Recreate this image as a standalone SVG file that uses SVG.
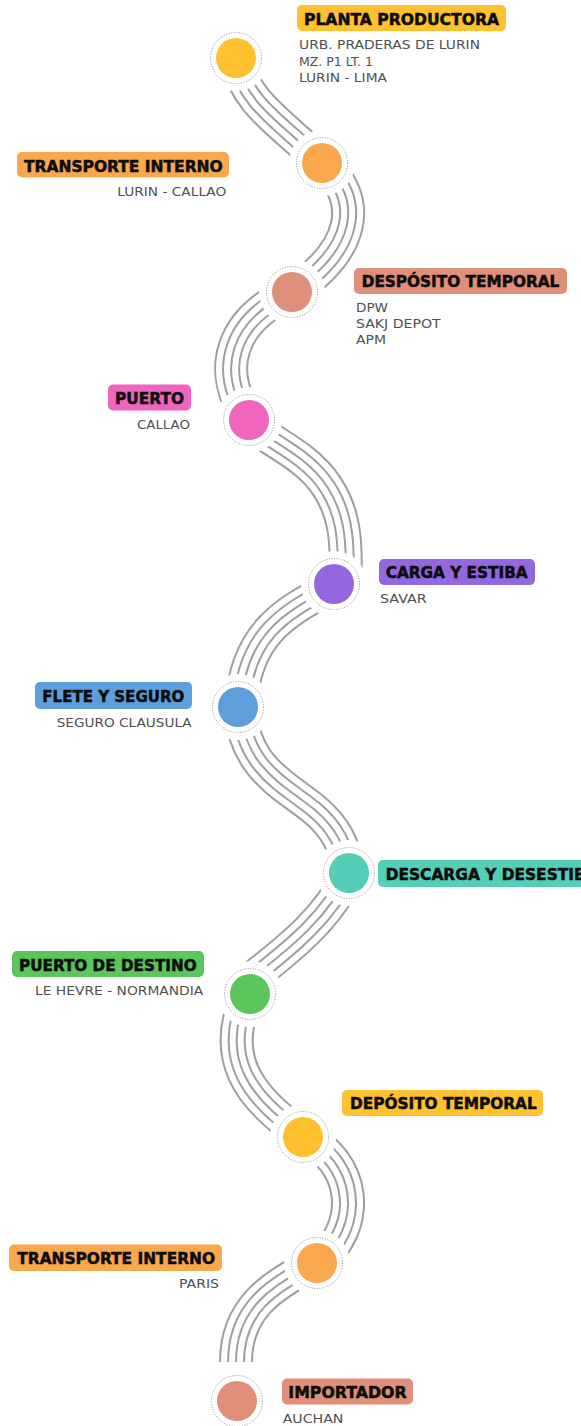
<svg xmlns="http://www.w3.org/2000/svg" xmlns:xlink="http://www.w3.org/1999/xlink" width="581" height="1426" viewBox="0 0 581 1426">
<style>
.bg{fill:#ffffff}
.g34{fill:none;stroke:#99a0a6;stroke-width:34}
.w30{fill:none;stroke:#ffffff;stroke-width:30}
.g18{fill:none;stroke:#99a0a6;stroke-width:18}
.w14{fill:none;stroke:#ffffff;stroke-width:14}
.g2{fill:none;stroke:#99a0a6;stroke-width:2}
.halo{fill:#ffffff}
.ring{fill:none;stroke:#8c8c8c;stroke-width:1;stroke-dasharray:1 1.6}
.ttl{font-family:"DejaVu Sans","Liberation Sans",sans-serif;font-weight:bold;font-size:16.5px;fill:#0d0d0d;stroke:#0d0d0d;stroke-width:0.55}
.sub{font-family:"DejaVu Sans","Liberation Sans",sans-serif;font-size:12.5px;fill:#4f4f4f}
.c-yel{fill:#FFC12F}.c-org{fill:#F9A84D}.c-sal{fill:#E0907A}.c-pnk{fill:#F065BE}
.c-pur{fill:#9367E0}.c-blu{fill:#5E9EDB}.c-tea{fill:#55CEB8}.c-grn{fill:#5BC65B}
</style>
<defs>
<path id="p1" d="M236,58 C245,105 285,125 322,163"/>
<path id="p2" d="M322,163 C365,200 355,250 292,292"/>
<path id="p3" d="M292,292 C230,320 215,370 249,420"/>
<path id="p4" d="M247,424 C285,448 312,462 328,488 C342,510 348,535 345,584"/>
<path id="p5" d="M334,586 C290,610 245,630 241,707"/>
<path id="p6" d="M240,710 C246,770 285,785 315,810 C335,827 345,845 349,873"/>
<path id="p7" d="M349,873 C330,915 295,945 244,984"/>
<path id="p8" d="M246,998 C222,1055 245,1095 300,1133"/>
<path id="p9" d="M303,1137 C355,1160 365,1225 317,1263"/>
<path id="p10" d="M317,1263 C270,1285 236,1310 236,1362"/>
</defs>
<rect class="bg" x="0" y="0" width="581" height="1426"/>
<g id="connectors">
<g id="road1"><use xlink:href="#p1" class="g34"/><use xlink:href="#p1" class="w30"/><use xlink:href="#p1" class="g18"/><use xlink:href="#p1" class="w14"/><use xlink:href="#p1" class="g2"/></g>
<g id="road2"><use xlink:href="#p2" class="g34"/><use xlink:href="#p2" class="w30"/><use xlink:href="#p2" class="g18"/><use xlink:href="#p2" class="w14"/><use xlink:href="#p2" class="g2"/></g>
<g id="road3"><use xlink:href="#p3" class="g34"/><use xlink:href="#p3" class="w30"/><use xlink:href="#p3" class="g18"/><use xlink:href="#p3" class="w14"/><use xlink:href="#p3" class="g2"/></g>
<g id="road4"><use xlink:href="#p4" class="g34"/><use xlink:href="#p4" class="w30"/><use xlink:href="#p4" class="g18"/><use xlink:href="#p4" class="w14"/><use xlink:href="#p4" class="g2"/></g>
<g id="road5"><use xlink:href="#p5" class="g34"/><use xlink:href="#p5" class="w30"/><use xlink:href="#p5" class="g18"/><use xlink:href="#p5" class="w14"/><use xlink:href="#p5" class="g2"/></g>
<g id="road6"><use xlink:href="#p6" class="g34"/><use xlink:href="#p6" class="w30"/><use xlink:href="#p6" class="g18"/><use xlink:href="#p6" class="w14"/><use xlink:href="#p6" class="g2"/></g>
<g id="road7"><use xlink:href="#p7" class="g34"/><use xlink:href="#p7" class="w30"/><use xlink:href="#p7" class="g18"/><use xlink:href="#p7" class="w14"/><use xlink:href="#p7" class="g2"/></g>
<g id="road8"><use xlink:href="#p8" class="g34"/><use xlink:href="#p8" class="w30"/><use xlink:href="#p8" class="g18"/><use xlink:href="#p8" class="w14"/><use xlink:href="#p8" class="g2"/></g>
<g id="road9"><use xlink:href="#p9" class="g34"/><use xlink:href="#p9" class="w30"/><use xlink:href="#p9" class="g18"/><use xlink:href="#p9" class="w14"/><use xlink:href="#p9" class="g2"/></g>
<g id="road10"><use xlink:href="#p10" class="g34"/><use xlink:href="#p10" class="w30"/><use xlink:href="#p10" class="g18"/><use xlink:href="#p10" class="w14"/><use xlink:href="#p10" class="g2"/></g>
</g>

<g id="node-planta">
<circle class="halo" cx="236" cy="58" r="33"/><circle class="ring" cx="236" cy="58" r="25.5"/><circle class="c-yel" cx="236" cy="58" r="20"/>
<rect class="c-yel" x="297" y="5" width="209" height="26" rx="5"/>
<text class="ttl" x="304" y="25" textLength="195" lengthAdjust="spacingAndGlyphs">PLANTA PRODUCTORA</text>
<text class="sub" x="299" y="49.3" textLength="181" lengthAdjust="spacingAndGlyphs">URB. PRADERAS DE LURIN</text>
<text class="sub" x="299" y="65.7" textLength="74" lengthAdjust="spacingAndGlyphs">MZ. P1 LT. 1</text>
<text class="sub" x="299" y="82" textLength="88" lengthAdjust="spacingAndGlyphs">LURIN - LIMA</text>
</g>

<g id="node-transporte1">
<circle class="halo" cx="322" cy="163" r="33"/><circle class="ring" cx="322" cy="163" r="25.5"/><circle class="c-org" cx="322" cy="163" r="20"/>
<rect class="c-org" x="17" y="152" width="212" height="25.5" rx="5"/>
<text class="ttl" x="24" y="171.7" textLength="198.7" lengthAdjust="spacingAndGlyphs">TRANSPORTE INTERNO</text>
<text class="sub" x="117.3" y="195.7" textLength="109" lengthAdjust="spacingAndGlyphs">LURIN - CALLAO</text>
</g>

<g id="node-desposito">
<circle class="halo" cx="292" cy="292" r="33"/><circle class="ring" cx="292" cy="292" r="25.5"/><circle class="c-sal" cx="292" cy="292" r="20"/>
<rect class="c-sal" x="354" y="268" width="213" height="26" rx="5"/>
<text class="ttl" x="361.7" y="287.3" textLength="197.6" lengthAdjust="spacingAndGlyphs">DESPÓSITO TEMPORAL</text>
<text class="sub" x="356" y="311.7" textLength="32" lengthAdjust="spacingAndGlyphs">DPW</text>
<text class="sub" x="356" y="328.3" textLength="84.7" lengthAdjust="spacingAndGlyphs">SAKJ DEPOT</text>
<text class="sub" x="356" y="344.3" textLength="30" lengthAdjust="spacingAndGlyphs">APM</text>
</g>

<g id="node-puerto">
<circle class="halo" cx="249" cy="420" r="33"/><circle class="ring" cx="249" cy="420" r="25.5"/><circle class="c-pnk" cx="249" cy="420" r="20"/>
<rect class="c-pnk" x="108" y="384.5" width="83" height="26" rx="5"/>
<text class="ttl" x="115" y="404" textLength="69" lengthAdjust="spacingAndGlyphs">PUERTO</text>
<text class="sub" x="137" y="428.5" textLength="53" lengthAdjust="spacingAndGlyphs">CALLAO</text>
</g>

<g id="node-carga">
<circle class="halo" cx="334" cy="584" r="33"/><circle class="ring" cx="334" cy="584" r="25.5"/><circle class="c-pur" cx="334" cy="584" r="20"/>
<rect class="c-pur" x="379" y="559" width="156" height="26" rx="5"/>
<text class="ttl" x="385.7" y="578.3" textLength="142" lengthAdjust="spacingAndGlyphs">CARGA Y ESTIBA</text>
<text class="sub" x="380" y="603.3" textLength="46.7" lengthAdjust="spacingAndGlyphs">SAVAR</text>
</g>

<g id="node-flete">
<circle class="halo" cx="238" cy="707" r="33"/><circle class="ring" cx="238" cy="707" r="25.5"/><circle class="c-blu" cx="238" cy="707" r="20"/>
<rect class="c-blu" x="35" y="682" width="157" height="27" rx="5"/>
<text class="ttl" x="42.3" y="701.7" textLength="142" lengthAdjust="spacingAndGlyphs">FLETE Y SEGURO</text>
<text class="sub" x="56.7" y="726.7" textLength="135" lengthAdjust="spacingAndGlyphs">SEGURO CLAUSULA</text>
</g>

<g id="node-descarga">
<circle class="halo" cx="349" cy="873" r="33"/><circle class="ring" cx="349" cy="873" r="25.5"/><circle class="c-tea" cx="349" cy="873" r="20"/>
<rect class="c-tea" x="378" y="860" width="240" height="27" rx="5"/>
<text class="ttl" x="385.7" y="880" textLength="212" lengthAdjust="spacingAndGlyphs">DESCARGA Y DESESTIBA</text>
</g>

<g id="node-destino">
<circle class="halo" cx="250" cy="994" r="33"/><circle class="ring" cx="250" cy="994" r="25.5"/><circle class="c-grn" cx="250" cy="994" r="20"/>
<rect class="c-grn" x="12" y="951" width="192" height="26" rx="5"/>
<text class="ttl" x="19" y="971" textLength="177.7" lengthAdjust="spacingAndGlyphs">PUERTO DE DESTINO</text>
<text class="sub" x="35" y="995" textLength="168.3" lengthAdjust="spacingAndGlyphs">LE HEVRE - NORMANDIA</text>
</g>

<g id="node-deposito">
<circle class="halo" cx="303" cy="1137" r="33"/><circle class="ring" cx="303" cy="1137" r="25.5"/><circle class="c-yel" cx="303" cy="1137" r="20"/>
<rect class="c-yel" x="342" y="1090" width="201" height="26" rx="5"/>
<text class="ttl" x="350" y="1109" textLength="186.7" lengthAdjust="spacingAndGlyphs">DEPÓSITO TEMPORAL</text>
</g>

<g id="node-transporte2">
<circle class="halo" cx="317" cy="1263" r="33"/><circle class="ring" cx="317" cy="1263" r="25.5"/><circle class="c-org" cx="317" cy="1263" r="20"/>
<rect class="c-org" x="9" y="1244.5" width="213" height="26.5" rx="5"/>
<text class="ttl" x="17.3" y="1264" textLength="197.7" lengthAdjust="spacingAndGlyphs">TRANSPORTE INTERNO</text>
<text class="sub" x="179" y="1288.3" textLength="40" lengthAdjust="spacingAndGlyphs">PARIS</text>
</g>

<g id="node-importador">
<circle class="halo" cx="237" cy="1401" r="33"/><circle class="ring" cx="237" cy="1401" r="25.5"/><circle class="c-sal" cx="237" cy="1401" r="20"/>
<rect class="c-sal" x="282" y="1378.5" width="131" height="26" rx="5"/>
<text class="ttl" x="288.3" y="1397.7" textLength="118.3" lengthAdjust="spacingAndGlyphs">IMPORTADOR</text>
<text class="sub" x="282.7" y="1423.3" textLength="60.7" lengthAdjust="spacingAndGlyphs">AUCHAN</text>
</g>
</svg>
